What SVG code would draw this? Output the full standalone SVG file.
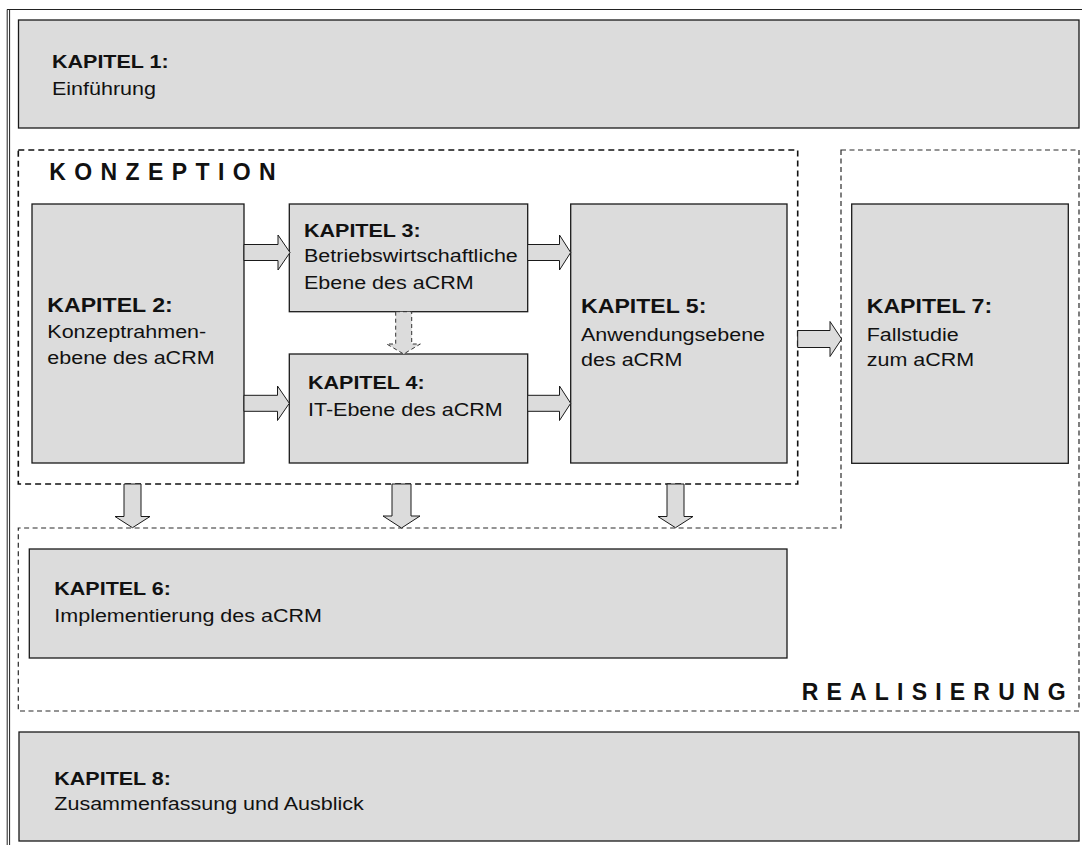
<svg xmlns="http://www.w3.org/2000/svg" width="1082" height="845" viewBox="0 0 1082 845">
  <style>
    .box { fill: #dcdcdc; stroke: #1a1a1a; stroke-width: 1.3; }
    .arrow { fill: #dcdcdc; stroke: #1a1a1a; stroke-width: 1; stroke-linejoin: miter; }
    .arrow-dash { fill: #dcdcdc; stroke: #333; stroke-width: 1; stroke-dasharray: 4 3; }
    .frame { fill: none; stroke: #222; stroke-width: 1; }
    .zone-k { fill: none; stroke: #111; stroke-width: 1.6; stroke-dasharray: 6 4; }
    .zone-r { fill: none; stroke: #2a2a2a; stroke-width: 1.2; stroke-dasharray: 5 3.5; }
    text { font-family: "Liberation Sans", Arial, sans-serif; fill: #111; }
    .h { font-weight: bold; font-size: 18.7px; }
    .t { font-size: 18.7px; }
    .hl { font-weight: bold; font-size: 20.1px; }
    .zone-label { font-weight: bold; font-size: 23px; }
  </style>

  <rect width="1082" height="845" fill="#ffffff"/>

  <!-- outer page frame -->
  <g id="frame">
    <line class="frame" x1="7.2" y1="9.5" x2="7.2" y2="845"/>
    <line class="frame" x1="9.6" y1="9.5" x2="9.6" y2="845"/>
    <line class="frame" x1="7" y1="9.5" x2="1082" y2="9.5" stroke-width="1.2"/>
  </g>

  <!-- phase zones -->
  <g id="zone-konzeption">
    <rect class="zone-k" x="18.3" y="150" width="779.4" height="334"/>
    <text class="zone-label" x="49.3" y="180" letter-spacing="8.4">KONZEPTION</text>
  </g>
  <g id="zone-realisierung">
    <path class="zone-r" d="M841,150 H1079 V711 H18.3 V528 H841 Z"/>
    <text class="zone-label" x="801.7" y="700" letter-spacing="8.2">REALISIERUNG</text>
  </g>

  <!-- chapter nodes -->
  <g id="kapitel-1">
    <rect class="box" x="18.5" y="20" width="1060.5" height="108"/>
    <g transform="translate(52,68.3) scale(1.15,1)">
      <text class="h" x="0" y="0">KAPITEL 1:</text>
      <text class="t" x="0" y="26.7">Einführung</text>
    </g>
  </g>

  <g id="kapitel-2">
    <rect class="box" x="32" y="204" width="212" height="259"/>
    <g transform="translate(47.3,312.3) scale(1.15,1)">
      <text class="hl" x="0" y="0">KAPITEL 2:</text>
      <text class="t" x="0" y="25.7">Konzeptrahmen-</text>
      <text class="t" x="0" y="51.7">ebene des aCRM</text>
    </g>
  </g>

  <g id="kapitel-3">
    <rect class="box" x="289.3" y="204" width="238.4" height="107.7"/>
    <g transform="translate(304,236.5) scale(1.15,1)">
      <text class="h" x="0" y="0">KAPITEL 3:</text>
      <text class="t" x="0" y="26">Betriebswirtschaftliche</text>
      <text class="t" x="0" y="52.5">Ebene des aCRM</text>
    </g>
  </g>

  <g id="kapitel-4">
    <rect class="box" x="289.3" y="354" width="238.4" height="109"/>
    <g transform="translate(308,389.3) scale(1.15,1)">
      <text class="h" x="0" y="0">KAPITEL 4:</text>
      <text class="t" x="0" y="26.7">IT-Ebene des aCRM</text>
    </g>
  </g>

  <g id="kapitel-5">
    <rect class="box" x="570.7" y="204" width="216.3" height="259"/>
    <g transform="translate(581,313.3) scale(1.15,1)">
      <text class="hl" x="0" y="0">KAPITEL 5:</text>
      <text class="t" x="0" y="28">Anwendungsebene</text>
      <text class="t" x="0" y="52.5">des aCRM</text>
    </g>
  </g>

  <g id="kapitel-7">
    <rect class="box" x="851.7" y="204" width="216.6" height="259.3"/>
    <g transform="translate(866.7,313.3) scale(1.15,1)">
      <text class="hl" x="0" y="0">KAPITEL 7:</text>
      <text class="t" x="0" y="28">Fallstudie</text>
      <text class="t" x="0" y="52.7">zum aCRM</text>
    </g>
  </g>

  <g id="kapitel-6">
    <rect class="box" x="29.3" y="549" width="757.7" height="109"/>
    <g transform="translate(54.3,595) scale(1.15,1)">
      <text class="h" x="0" y="0">KAPITEL 6:</text>
      <text class="t" x="0" y="27.5">Implementierung des aCRM</text>
    </g>
  </g>

  <g id="kapitel-8">
    <rect class="box" x="19" y="732" width="1060" height="109"/>
    <g transform="translate(54.3,785) scale(1.15,1)">
      <text class="h" x="0" y="0">KAPITEL 8:</text>
      <text class="t" x="0" y="25.5">Zusammenfassung und Ausblick</text>
    </g>
  </g>

  <!-- connectors: block arrows -->
  <g id="connectors">
    <!-- K2 -> K3 -->
    <path class="arrow" d="M244,244.5 H278 V235 L290,252.5 L278,270 V260.5 H244 Z"/>
    <!-- K2 -> K4 -->
    <path class="arrow" d="M244,395.3 H277.5 V386 L289.3,403.3 L277.5,420.5 V411.3 H244 Z"/>
    <!-- K3 -> K5 -->
    <path class="arrow" d="M527.7,244.5 H559.5 V235 L570.7,252.5 L559.5,270 V260.5 H527.7 Z"/>
    <!-- K4 -> K5 -->
    <path class="arrow" d="M527.7,395.3 H559.5 V386 L570.7,403.3 L559.5,420.5 V411.3 H527.7 Z"/>
    <!-- K5 -> K7 -->
    <path class="arrow" d="M797.7,330.5 H830 V321.5 L841.7,339 L830,356.5 V347.5 H797.7 Z"/>
    <!-- K3 -> K4 (dashed) -->
    <path class="arrow-dash" d="M395.7,311.7 V344 H386.7 L403.7,354 L420.3,344 H411.7 V311.7 Z"/>
    <!-- Konzeption -> K6 -->
    <path class="arrow" d="M124,484 V516.5 H115 L132.5,527.7 L150,516.5 H141 V484 Z"/>
    <path class="arrow" d="M392,484 V516 H383 L401.5,528 L420,516 H411 V484 Z"/>
    <path class="arrow" d="M667,484 V516.5 H658 L675.5,527.7 L693,516.5 H684 V484 Z"/>
  </g>
</svg>
